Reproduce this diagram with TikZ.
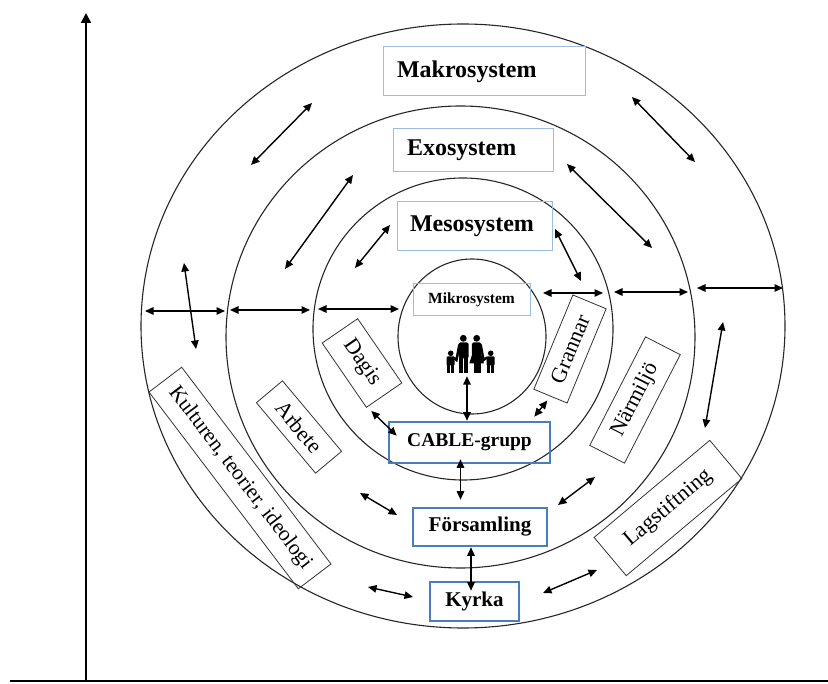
\documentclass[tikz,border=0pt]{standalone}
\usepackage{fontspec}
\setmainfont{Liberation Serif}
\usetikzlibrary{arrows.meta}
\definecolor{paleblue}{RGB}{158,187,228}
\definecolor{deepblue}{RGB}{74,126,187}
\tikzstyle{ring}=[draw=black!85, line width=1.1pt]
\tikzstyle{sysbox}=[draw=paleblue, line width=1pt, align=left, inner xsep=14pt, inner ysep=0pt, font=\fontsize{24}{28}\selectfont\bfseries]
\tikzstyle{groupbox}=[draw=deepblue, line width=2.6pt, inner sep=0pt, font=\fontsize{21}{24}\selectfont\bfseries]
\tikzstyle{tiltbox}=[draw=black!80, line width=0.8pt, inner sep=0pt, font=\fontsize{22}{24}\selectfont]
\tikzstyle{link}=[{Triangle[length=8.5pt,width=7.5pt]}-{Triangle[length=8.5pt,width=7.5pt]}, line width=1.4pt]

\begin{document}
\begin{tikzpicture}[x=1pt, y=-1pt]
  \useasboundingbox (0,0) rectangle (828,684);
  % axes
  \coordinate (origin) at (86,681);
  \coordinate (ytop)   at (86,13);
  \coordinate (xleft)  at (10,681);
  \coordinate (xright) at (828,681);
  \draw[line width=2pt] (xleft) -- (xright);
  \draw[line width=2pt, -{Triangle[length=10pt,width=10pt]}] (origin) -- (ytop);
  % rings
  \draw[ring] (463,326)   ellipse [x radius=322pt, y radius=302pt];
  \draw[ring] (460.5,337) ellipse [x radius=234.5pt, y radius=231pt];
  \draw[ring] (463,329)   ellipse [x radius=150pt, y radius=151pt];
  \draw[ring] (472,336.5) ellipse [x radius=74pt, y radius=77.5pt];
  % systems
  \node[sysbox, text width=174pt, minimum height=49pt] (makro) at (484,71.5) {Makrosystem};
  \node[sysbox, text width=132pt, minimum height=43pt] (exo)   at (473,150.5) {Exosystem};
  \node[sysbox, inner xsep=13pt, text width=129pt, minimum height=49pt] (meso) at (474.5,226.5) {Mesosystem};
  \node[sysbox, align=center, text width=89pt, minimum height=32pt,
        font=\fontsize{15.5}{18}\selectfont\bfseries] (mikro) at (471.5,300) {Mikrosystem};
  % church groups
  \node[groupbox, minimum width=161pt, minimum height=41pt, font=\fontsize{19.5}{22}\selectfont\bfseries] (cable) at (469.5,442.5) {CABLE-grupp};
  \node[groupbox, minimum width=134pt, minimum height=38pt] (fors)  at (480,527) {Församling};
  \node[groupbox, minimum width=89pt,  minimum height=39pt] (kyrka) at (474.5,601.5) {Kyrka};
  % surroundings
  \node[tiltbox, rotate=-52.8, minimum width=247pt, minimum height=41pt, font=\fontsize{21.5}{24}\selectfont] (kultur) at (240,478) {Kulturen, teorier, ideologi};
  \node[tiltbox, rotate=-50,   minimum width=92pt,  minimum height=34pt] (arbete)   at (299,427) {Arbete};
  \node[tiltbox, rotate=-55.5, minimum width=78pt,  minimum height=43pt] (dagis)    at (362,363) {Dagis};
  \node[tiltbox, rotate=67.5,  minimum width=102pt, minimum height=36pt] (grannar)  at (570,349) {Grannar};
  \node[tiltbox, rotate=62.8,  minimum width=122pt, minimum height=39pt] (narmiljo) at (635,400) {Närmiljö};
  \node[tiltbox, rotate=40,    minimum width=151pt, minimum height=50pt] (lag)      at (668,508) {Lagstiftning};
  % family
  \node[minimum width=52pt, minimum height=40pt, inner sep=0pt] (family) at (470,356) {};
  \begin{scope}[shift={(family.center)}]
    \fill (-6.7,-17.7) circle [radius=3.4pt];
    \fill[rounded corners=1.5pt] (-11.5,-13.5) rectangle (-1.5,2.5);
    \fill (-11,2) rectangle (-6.9,17.5);
    \fill (-6,2) rectangle (-1.9,17.5);
    \fill (6.7,-17.7) circle [radius=3.4pt];
    \fill[rounded corners=1.5pt] (1.9,-13.5) rectangle (11.4,0);
    \fill (1.9,-1) -- (11.4,-1) -- (14,7.5) -- (-0.7,7.5) -- cycle;
    \fill (3.5,6) rectangle (6.6,17.5);
    \fill (7.4,6) rectangle (10.5,17.5);
    \fill (-19.3,-2.7) circle [radius=2.8pt];
    \fill[rounded corners=1pt] (-23.3,0.5) rectangle (-15.5,9.5);
    \fill (-23,9) rectangle (-19.7,17.5);
    \fill (-19,9) rectangle (-15.8,17.5);
    \fill (20.7,-2.7) circle [radius=2.8pt];
    \fill[rounded corners=1pt] (16.7,0.5) rectangle (24.5,9.5);
    \fill (17,9) rectangle (20.3,17.5);
    \fill (21,9) rectangle (24.2,17.5);
    \draw[line width=2.4pt, line cap=round] (-10.8,-11) -- (-13.5,4) -- (-16.5,1.5);
    \draw[line width=2.4pt, line cap=round] (10.8,-11) -- (13.5,4) -- (17,1.5);
  \end{scope}
  % arrow ends across the rings
  \coordinate (mkW1) at (145,311);  \coordinate (mkW2) at (225,311);
  \coordinate (exW1) at (230,310);  \coordinate (exW2) at (310,310);
  \coordinate (msW1) at (318,309);  \coordinate (msW2) at (399,309);
  \coordinate (msE1) at (543,293);  \coordinate (msE2) at (603,293);
  \coordinate (exE1) at (614,292);  \coordinate (exE2) at (688,292);
  \coordinate (mkE1) at (697,288);  \coordinate (mkE2) at (783,288);
  \coordinate (mkNW1) at (312,103); \coordinate (mkNW2) at (251,165);
  \coordinate (mkNE1) at (632,97);  \coordinate (mkNE2) at (695,162);
  \coordinate (exNW1) at (353,175); \coordinate (exNW2) at (285,269);
  \coordinate (exNE1) at (567,164); \coordinate (exNE2) at (652,248);
  \coordinate (msNW1) at (390,225); \coordinate (msNW2) at (355,268);
  \coordinate (msNE1) at (555,229); \coordinate (msNE2) at (581,281);
  \coordinate (mkL1) at (184,263);  \coordinate (mkL2) at (196,349);
  \coordinate (mkR1) at (723,322);  \coordinate (mkR2) at (705,428);
  \coordinate (exSW1) at (360,493); \coordinate (exSW2) at (397,515);
  \coordinate (exSE1) at (595,477); \coordinate (exSE2) at (558,505);
  \coordinate (mkSW1) at (368,587); \coordinate (mkSW2) at (413,597);
  \coordinate (mkSE1) at (597,570); \coordinate (mkSE2) at (543,593);
  \draw[link] (mkW1) -- (mkW2);
  \draw[link] (exW1) -- (exW2);
  \draw[link] (msW1) -- (msW2);
  \draw[link] (msE1) -- (msE2);
  \draw[link] (exE1) -- (exE2);
  \draw[link] (mkE1) -- (mkE2);
  \draw[link] (mkNW1) -- (mkNW2);
  \draw[link] (mkNE1) -- (mkNE2);
  \draw[link] (exNW1) -- (exNW2);
  \draw[link] (exNE1) -- (exNE2);
  \draw[link] (msNW1) -- (msNW2);
  \draw[link] (msNE1) -- (msNE2);
  \draw[link] (mkL1) -- (mkL2);
  \draw[link] (mkR1) -- (mkR2);
  \draw[link] (exSW1) -- (exSW2);
  \draw[link] (exSE1) -- (exSE2);
  \draw[link] (mkSW1) -- (mkSW2);
  \draw[link] (mkSE1) -- (mkSE2);
  % arrows between boxes
  \draw[link] ([xshift=-3pt]family.south) -- ([xshift=-3pt]family.south |- cable.north);
  \draw[link, shorten >=7pt, shorten <=-5pt] ([xshift=-9pt]cable.south) -- ([xshift=-9pt]cable.south |- fors.north);
  \draw[link] ([xshift=-3.5pt]kyrka.north |- fors.south) -- ([xshift=-3.5pt, yshift=-10pt]kyrka.north);
  \draw[link] ([shift={(5pt,-3pt)}]dagis.south east) -- ([shift={(9pt,-15pt)}]cable.north west);
  \draw[link] ([shift={(-3pt,-4pt)}]grannar.west) -- ([shift={(-17pt,4pt)}]cable.north east);
\end{tikzpicture}
\end{document}
